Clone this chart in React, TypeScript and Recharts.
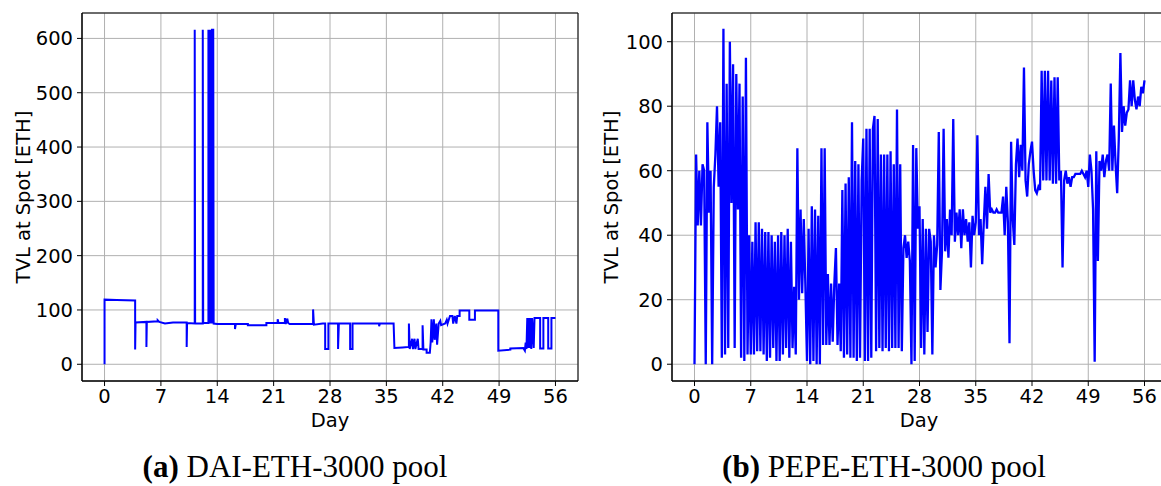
import React from 'react';
import { LineChart, Line, XAxis, YAxis, CartesianGrid, ReferenceArea } from 'recharts';

const DAY_TICKS = [0, 7, 14, 21, 28, 35, 42, 49, 56];
const DAI_Y_TICKS = [0, 100, 200, 300, 400, 500, 600];
const PEPE_Y_TICKS = [0, 20, 40, 60, 80, 100];
const DAY_DOMAIN: [number, number] = [-2.8, 58.8];
const DAI_Y_DOMAIN: [number, number] = [-30.8, 646.8];
const PEPE_Y_DOMAIN: [number, number] = [-5.2, 108.9];

// DAI-ETH-3000 pool: [day, TVL at spot in ETH]
const DAI_POINTS: [number, number][] = [
  [0, 0], [0, 119], [1.5, 118.5], [3.8, 117.5], [3.8, 27], [3.85, 77], [5.2, 78], [5.2, 32], [5.25, 78],
  [6.6, 79], [6.6, 81], [6.8, 78], [7.5, 75], [8.5, 77], [10.2, 77], [10.2, 32], [10.25, 76], [11.2, 75],
  [11.2, 616], [11.25, 75], [12.2, 75], [12.2, 616], [12.25, 76], [12.9, 76], [12.9, 616], [13.0, 75],
  [13.05, 616], [13.15, 75], [13.2, 616], [13.3, 75], [13.35, 616], [13.5, 616], [13.55, 75], [14, 74],
  [16.2, 74], [16.2, 65], [16.3, 74], [17.8, 74], [17.8, 72], [20.1, 72], [20.1, 76], [21.5, 76], [21.5, 83],
  [21.6, 76], [22.4, 76], [22.4, 85], [22.5, 74], [22.7, 84], [22.8, 76], [23, 74], [25.9, 74], [25.9, 101],
  [26, 73], [27.1, 75], [27.4, 75], [27.4, 28], [27.8, 28], [27.8, 75], [29.0, 75], [29.0, 28], [29.1, 75],
  [30.5, 75], [30.5, 28], [30.8, 28], [30.8, 75], [34.1, 75], [34.1, 70], [34.2, 75], [35.9, 75], [36.0, 30],
  [37, 31], [37.8, 32], [37.8, 75], [37.9, 28], [38.2, 47], [38.3, 28], [38.5, 47], [38.6, 28], [38.9, 47],
  [39.0, 28], [39.5, 28], [39.5, 72], [39.6, 27], [40.0, 27], [40.0, 21], [40.4, 21], [40.5, 40], [40.6, 83],
  [40.7, 40], [40.9, 83], [41.0, 45], [41.2, 75], [41.3, 36], [41.5, 75], [41.7, 80], [41.8, 72], [42.3, 75],
  [42.5, 82], [42.6, 75], [42.9, 89], [43.2, 89], [43.3, 75], [43.5, 89], [43.7, 75], [43.8, 89], [44.1, 89],
  [44.1, 99], [45.3, 99], [45.3, 82], [46.0, 82], [46.0, 99], [48.9, 99], [48.9, 25], [50.4, 27], [50.4, 29],
  [52.0, 30], [52.2, 25], [52.3, 40], [52.4, 28], [52.5, 85], [52.6, 30], [52.7, 85], [52.8, 30], [52.9, 85],
  [53.0, 28], [53.1, 85], [53.3, 30], [53.4, 85], [54.1, 85], [54.1, 29], [54.5, 29], [54.5, 85], [55.1, 85],
  [55.1, 29], [55.5, 29], [55.5, 85], [56, 85],
];

// PEPE-ETH-3000 pool: TVL read every 0.2 day from day 0 to day 56
const PEPE_STEP_DAYS = 0.2;
const PEPE_TVL: number[] = [
  0, 65, 43, 60, 43,
  62, 60, 0, 75, 47,
  60, 0, 55, 65, 80,
  55, 75, 2, 104, 3,
  87, 5, 100, 50, 93,
  5, 90, 48, 87, 2,
  83, 1, 95, 3, 40,
  3, 38, 3, 44, 4,
  44, 4, 42, 3, 41,
  1, 41, 2, 40, 5,
  38, 1, 40, 1, 41,
  3, 40, 5, 42, 2,
  38, 5, 24, 3, 67,
  20, 48, 22, 45, 24,
  1, 42, 0, 49, 1,
  48, 0, 46, 0, 67,
  6, 67, 6, 28, 6,
  25, 7, 25, 36, 6,
  25, 4, 54, 2, 56,
  3, 58, 2, 75, 2,
  63, 1, 62, 2, 57,
  70, 1, 73, 1, 73,
  2, 73, 77, 4, 76,
  5, 65, 4, 65, 5,
  65, 4, 66, 5, 62,
  5, 79, 5, 62, 4,
  36, 40, 33, 38, 32,
  0, 68, 1, 67, 42,
  49, 5, 45, 3, 42,
  10, 42, 38, 3, 40,
  30, 37, 72, 23, 35,
  73, 35, 45, 33, 48,
  40, 76, 38, 47, 40,
  48, 36, 48, 40, 45,
  38, 44, 30, 46, 40,
  44, 71, 40, 45, 31,
  44, 55, 42, 59, 47,
  48, 47, 47, 48, 47,
  47, 47, 52, 40, 55,
  44, 6.5, 69, 45, 37,
  62, 70, 58, 68, 60,
  92, 57, 52, 62, 66,
  69, 60, 54, 53, 55,
  54, 91, 57, 91, 57,
  91, 57, 88, 56, 89,
  56, 89, 57, 60, 30,
  57, 60, 56, 58, 55,
  58, 58, 59, 59, 59,
  59, 60, 59, 58, 60,
  55, 65, 60, 48, 0.8,
  66, 32, 63, 60, 65,
  58, 63, 65, 60, 87,
  60, 74, 62, 53, 70,
  96.5, 72, 80, 74, 78,
  79, 88, 80, 88, 82,
  79, 83, 80, 86, 84,
  88,
];

const Y_TITLE = 'TVL at Spot [ETH]';
const X_TITLE = 'Day';
const CAPTIONS: [string, string][] = [['(a)', 'DAI-ETH-3000 pool'], ['(b)', 'PEPE-ETH-3000 pool']];

const daiData = DAI_POINTS.map(([day, tvl]) => ({ day, tvl }));
const pepeData = PEPE_TVL.map((tvl, i) => ({ day: Number((i * PEPE_STEP_DAYS).toFixed(2)), tvl }));

const TICK_STYLE = { fill: '#000', fontSize: 19.5, fontFamily: 'DejaVu Sans' };

function Panel({ data, yTicks, yDomain, width, lineWidth }: { data: any[]; yTicks: number[]; yDomain: [number, number]; width: number; lineWidth: number }) {
  return (
    <LineChart width={width} height={430} data={data} margin={{ top: 13, right: 2, bottom: 19, left: 0 }}>
      <CartesianGrid stroke="#b0b0b0" strokeWidth={1} />
      <XAxis
        dataKey="day"
        type="number"
        domain={DAY_DOMAIN}
        ticks={DAY_TICKS}
        allowDataOverflow
        interval={0}
        height={30}
        tickSize={5}
        tickMargin={3}
        tick={TICK_STYLE}
        stroke="#000"
      />
      <YAxis
        type="number"
        domain={yDomain}
        ticks={yTicks}
        allowDataOverflow
        interval={0}
        width={82}
        tickSize={5}
        tickMargin={4}
        tick={TICK_STYLE}
        stroke="#000"
      />
      <ReferenceArea
        x1={DAY_DOMAIN[0]}
        x2={DAY_DOMAIN[1]}
        y1={yDomain[0]}
        y2={yDomain[1]}
        fill="none"
        fillOpacity={0}
        stroke="#000"
        strokeWidth={1}
        ifOverflow="visible"
      />
      <Line dataKey="tvl" type="linear" stroke="#0000ff" strokeWidth={lineWidth} dot={false} isAnimationActive={false} />
    </LineChart>
  );
}

export default function App() {
  return (
    <div style={{ position: 'fixed', left: 0, top: 0, width: 1161, height: 486, overflow: 'hidden', background: '#fff' }}>
      <div style={{ position: 'absolute', left: 0, top: 0 }}>
        <Panel data={daiData} yTicks={DAI_Y_TICKS} yDomain={DAI_Y_DOMAIN} width={580} lineWidth={2} />
      </div>
      <div style={{ position: 'absolute', left: 590, top: 0 }}>
        <Panel data={pepeData} yTicks={PEPE_Y_TICKS} yDomain={PEPE_Y_DOMAIN} width={579} lineWidth={2.3} />
      </div>
      <svg width={1161} height={486} style={{ position: 'absolute', left: 0, top: 0, pointerEvents: 'none' }}>
        <g fontFamily="DejaVu Sans" fontSize={19.5} fill="#000">
          <text x={30} y={197} textAnchor="middle" transform="rotate(-90 30 197)">{Y_TITLE}</text>
          <text x={618} y={197} textAnchor="middle" transform="rotate(-90 618 197)">{Y_TITLE}</text>
          <text x={330} y={427} textAnchor="middle">{X_TITLE}</text>
          <text x={919} y={427} textAnchor="middle">{X_TITLE}</text>
        </g>
        <g fontFamily="Liberation Serif" fontSize={31} fill="#000">
          <text x={295} y={477} textAnchor="middle">
            <tspan fontWeight="bold">{CAPTIONS[0][0]}</tspan> {CAPTIONS[0][1]}
          </text>
          <text x={884} y={477} textAnchor="middle">
            <tspan fontWeight="bold">{CAPTIONS[1][0]}</tspan> {CAPTIONS[1][1]}
          </text>
        </g>
      </svg>
    </div>
  );
}
